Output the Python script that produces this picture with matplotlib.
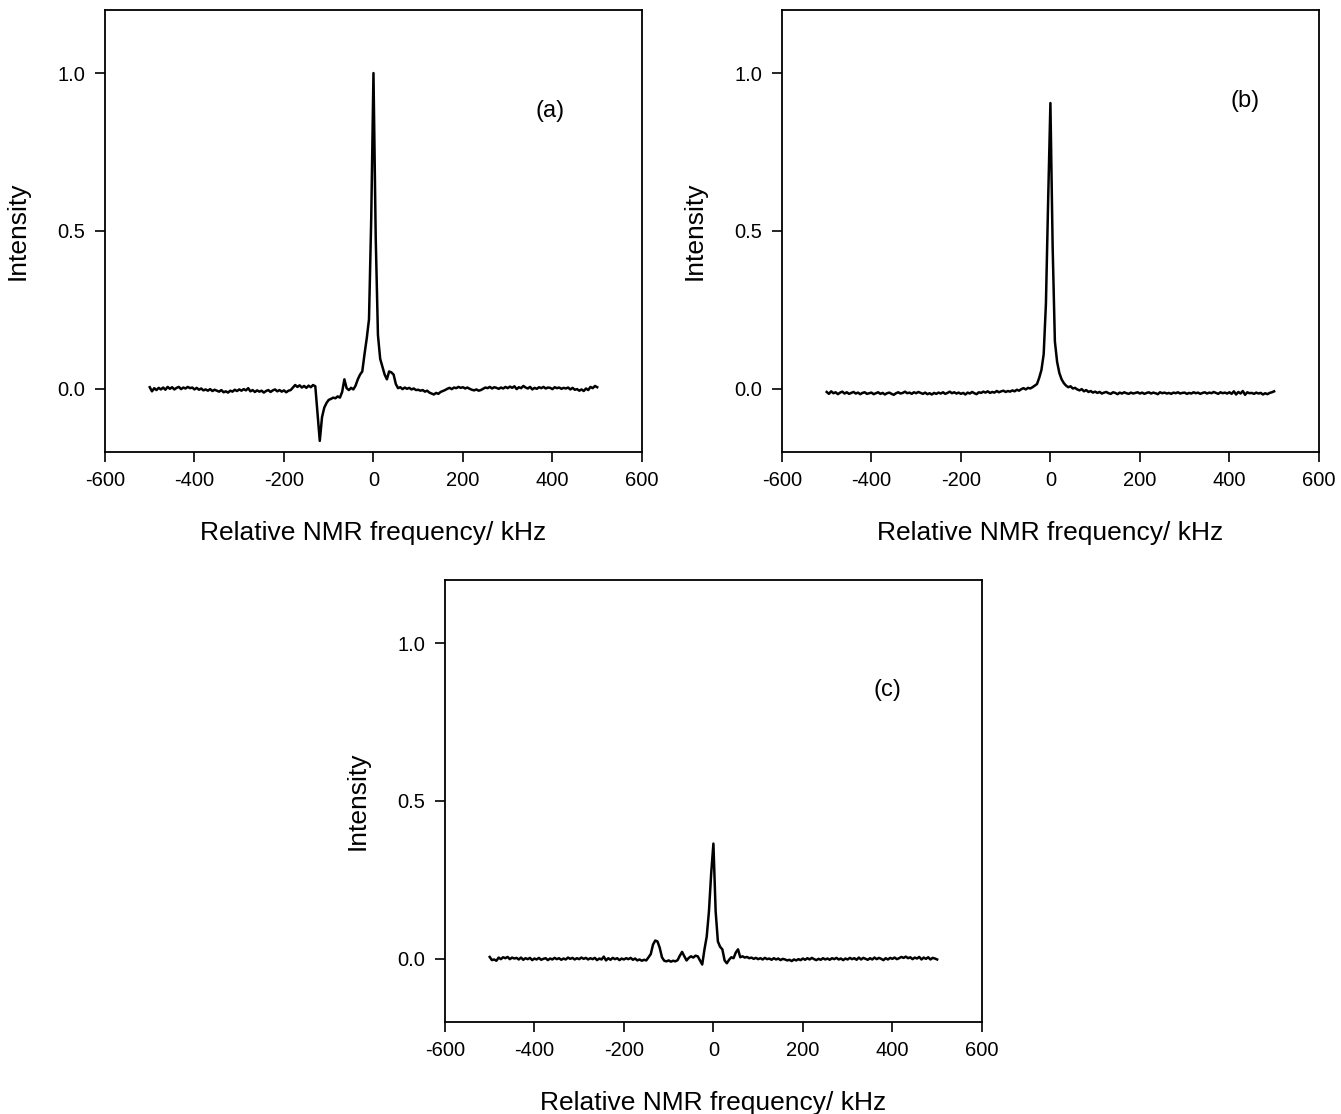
import numpy as np
import matplotlib
matplotlib.use("Agg")
import matplotlib.pyplot as plt

plt.rcParams["font.family"] = ["Liberation Sans", "DejaVu Sans"]
plt.rcParams["axes.unicode_minus"] = False

# spectra sampled every 5 kHz from -500 to 500 kHz (201 points each)
freq = np.arange(-500, 501, 5)

# (a)
intensity_a = [
    0.005, -0.008, 0.002, -0.004, 0.003, -0.002, 0.004, -0.003, 0.006, 0.000,
    0.005, -0.002, 0.003, 0.006, -0.001, 0.004, 0.001, 0.006, 0.002, 0.004,
    -0.002, 0.003, -0.003, 0.001, -0.005, -0.002, -0.006, -0.001, -0.007, -0.003,
    -0.006, -0.009, -0.004, -0.011, -0.008, -0.012, -0.006, -0.009, -0.003, -0.007,
    -0.002, -0.006, -0.001, -0.005, 0.002, -0.008, -0.004, -0.010, -0.005, -0.009,
    -0.006, -0.012, -0.007, -0.004, -0.010, -0.005, -0.002, -0.008, -0.004, -0.009,
    -0.005, -0.011, -0.006, -0.004, 0.004, 0.012, 0.006, 0.011, 0.004, 0.009,
    0.003, 0.010, 0.005, 0.012, 0.008, -0.080, -0.165, -0.090, -0.060, -0.045,
    -0.035, -0.032, -0.028, -0.030, -0.024, -0.028, -0.010, 0.030, 0.002, -0.004,
    0.003, -0.002, 0.010, 0.030, 0.045, 0.055, 0.110, 0.160, 0.220, 0.540,
    1.000, 0.480, 0.170, 0.095, 0.070, 0.045, 0.030, 0.055, 0.052, 0.045,
    0.015, 0.002, 0.005, -0.001, 0.004, 0.000, 0.003, -0.002, 0.001, -0.004,
    -0.003, -0.006, -0.004, -0.009, -0.006, -0.012, -0.015, -0.018, -0.013, -0.016,
    -0.010, -0.007, -0.004, 0.000, 0.003, -0.001, 0.004, 0.002, 0.006, 0.003,
    0.005, 0.001, 0.004, 0.000, -0.003, -0.005, -0.002, -0.006, -0.004, 0.000,
    0.004, 0.002, 0.006, 0.001, 0.005, 0.003, 0.000, 0.004, 0.001, 0.006,
    0.002, 0.007, 0.003, 0.008, -0.001, 0.005, 0.002, 0.009, 0.004, 0.001,
    0.006, -0.002, 0.003, 0.000, 0.005, 0.002, 0.006, 0.001, 0.004, 0.003,
    -0.001, 0.005, 0.002, 0.004, 0.000, 0.003, 0.001, 0.004, -0.002, 0.003,
    -0.003, -0.001, -0.006, -0.002, -0.007, 0.001, -0.004, 0.006, 0.002, 0.009,
    0.005,
]

# (b)
intensity_b = [
    -0.010, -0.016, -0.008, -0.014, -0.011, -0.017, -0.012, -0.009, -0.015, -0.011,
    -0.016, -0.013, -0.010, -0.015, -0.012, -0.017, -0.013, -0.011, -0.016, -0.014,
    -0.012, -0.017, -0.014, -0.011, -0.016, -0.013, -0.018, -0.014, -0.012, -0.016,
    -0.019, -0.014, -0.011, -0.015, -0.013, -0.009, -0.014, -0.012, -0.016, -0.011,
    -0.014, -0.010, -0.013, -0.016, -0.012, -0.017, -0.014, -0.018, -0.013, -0.016,
    -0.012, -0.015, -0.011, -0.016, -0.013, -0.009, -0.014, -0.011, -0.015, -0.012,
    -0.016, -0.013, -0.018, -0.012, -0.015, -0.010, -0.014, -0.017, -0.011, -0.013,
    -0.009, -0.012, -0.008, -0.013, -0.010, -0.012, -0.007, -0.011, -0.008, -0.006,
    -0.010, -0.007, -0.009, -0.005, -0.008, -0.003, -0.006, -0.001, 0.002, -0.002,
    0.003, 0.001, 0.005, 0.010, 0.015, 0.035, 0.060, 0.110, 0.270, 0.600,
    0.905, 0.450, 0.150, 0.085, 0.050, 0.030, 0.018, 0.010, 0.005, 0.008,
    0.001, 0.003, -0.002, -0.005, -0.001, -0.008, -0.004, -0.010, -0.007, -0.012,
    -0.009, -0.013, -0.010, -0.015, -0.012, -0.010, -0.014, -0.016, -0.011, -0.013,
    -0.017, -0.012, -0.015, -0.011, -0.014, -0.016, -0.012, -0.015, -0.013, -0.011,
    -0.015, -0.012, -0.016, -0.013, -0.011, -0.015, -0.012, -0.014, -0.017, -0.011,
    -0.014, -0.012, -0.015, -0.013, -0.016, -0.012, -0.014, -0.011, -0.015, -0.013,
    -0.012, -0.016, -0.013, -0.015, -0.011, -0.014, -0.012, -0.016, -0.013, -0.011,
    -0.015, -0.012, -0.014, -0.010, -0.013, -0.016, -0.011, -0.014, -0.012, -0.015,
    -0.011, -0.016, -0.008, -0.018, -0.010, -0.015, -0.007, -0.019, -0.011, -0.014,
    -0.013, -0.016, -0.012, -0.015, -0.013, -0.018, -0.014, -0.017, -0.013, -0.011,
    -0.008,
]

# (c)
intensity_c = [
    0.006, -0.004, -0.002, -0.006, 0.004, -0.001, 0.005, 0.002, 0.006, -0.001,
    0.004, 0.001, 0.003, -0.002, 0.004, -0.003, 0.002, -0.001, 0.003, -0.004,
    0.001, -0.002, 0.003, -0.003, 0.000, 0.002, -0.004, 0.001, -0.002, 0.003,
    -0.001, 0.002, -0.003, 0.001, -0.002, 0.004, 0.000, 0.003, -0.002, 0.002,
    -0.001, 0.004, 0.000, 0.003, -0.002, 0.002, -0.001, 0.003, -0.004, 0.001,
    -0.002, 0.007, -0.005, 0.002, -0.003, 0.003, -0.001, 0.002, -0.004, 0.001,
    -0.002, 0.002, -0.001, 0.003, -0.003, 0.001, -0.005, -0.002, -0.006, -0.003,
    -0.005, 0.005, 0.015, 0.045, 0.058, 0.055, 0.035, 0.005, -0.006, -0.008,
    -0.005, -0.009, -0.006, -0.008, -0.004, 0.010, 0.022, 0.008, -0.005, 0.003,
    0.008, 0.004, 0.010, 0.008, -0.005, -0.018, 0.030, 0.070, 0.150, 0.270,
    0.365, 0.150, 0.055, 0.038, 0.030, -0.005, -0.014, -0.003, 0.005, 0.002,
    0.020, 0.030, 0.005, 0.008, 0.004, 0.006, 0.002, 0.004, 0.000, 0.003,
    -0.001, 0.002, -0.002, 0.003, -0.001, 0.001, -0.003, 0.002, -0.002, 0.001,
    -0.004, 0.000, -0.002, -0.005, -0.003, -0.007, -0.002, -0.005, -0.001, -0.004,
    0.001, -0.003, 0.002, -0.002, 0.003, -0.001, -0.004, 0.000, -0.003, 0.002,
    -0.002, 0.001, -0.003, 0.002, -0.001, 0.003, -0.002, 0.001, -0.004, 0.001,
    -0.002, 0.003, -0.001, 0.002, -0.003, 0.004, -0.002, 0.003, 0.000, -0.003,
    0.002, -0.002, 0.004, -0.001, 0.003, 0.000, -0.004, 0.002, -0.002, 0.003,
    0.000, 0.004, -0.001, 0.002, 0.006, 0.003, 0.007, 0.002, 0.005, -0.001,
    0.004, 0.001, 0.006, -0.002, 0.004, 0.000, 0.005, -0.002, 0.003, 0.001,
    -0.002,
]

panel_labels = ["(a)", "(b)", "(c)"]
label_pos = [(395, 0.88), (435, 0.91), (390, 0.85)]

fig = plt.figure(figsize=(13.41, 11.14), dpi=100)
rects = [
    [0.0783, 0.5943, 0.4004, 0.3968],
    [0.5831, 0.5943, 0.4004, 0.3968],
    [0.3318, 0.0826, 0.4004, 0.3968],
]

for rect, y, lab, (lx, ly) in zip(rects, [intensity_a, intensity_b, intensity_c],
                                 panel_labels, label_pos):
    ax = fig.add_axes(rect)
    ax.plot(freq, y, color="black", linewidth=1.8)
    ax.set_xlim(-600, 600)
    ax.set_ylim(-0.2, 1.2)
    ax.set_xticks([-600, -400, -200, 0, 200, 400, 600])
    ax.set_yticks([0.0, 0.5, 1.0])
    ax.set_yticklabels(["0.0", "0.5", "1.0"])
    ax.tick_params(direction="out", length=7, width=1.2, labelsize=14.5, pad=7)
    for s in ax.spines.values():
        s.set_linewidth(1.3)
    ax.set_xlabel("Relative NMR frequency/ kHz", fontsize=19, labelpad=22)
    ax.set_ylabel("Intensity", fontsize=19, labelpad=20)
    ax.text(lx, ly, lab, fontsize=17, ha="center", va="center")

fig.savefig("out.png", dpi=100)
